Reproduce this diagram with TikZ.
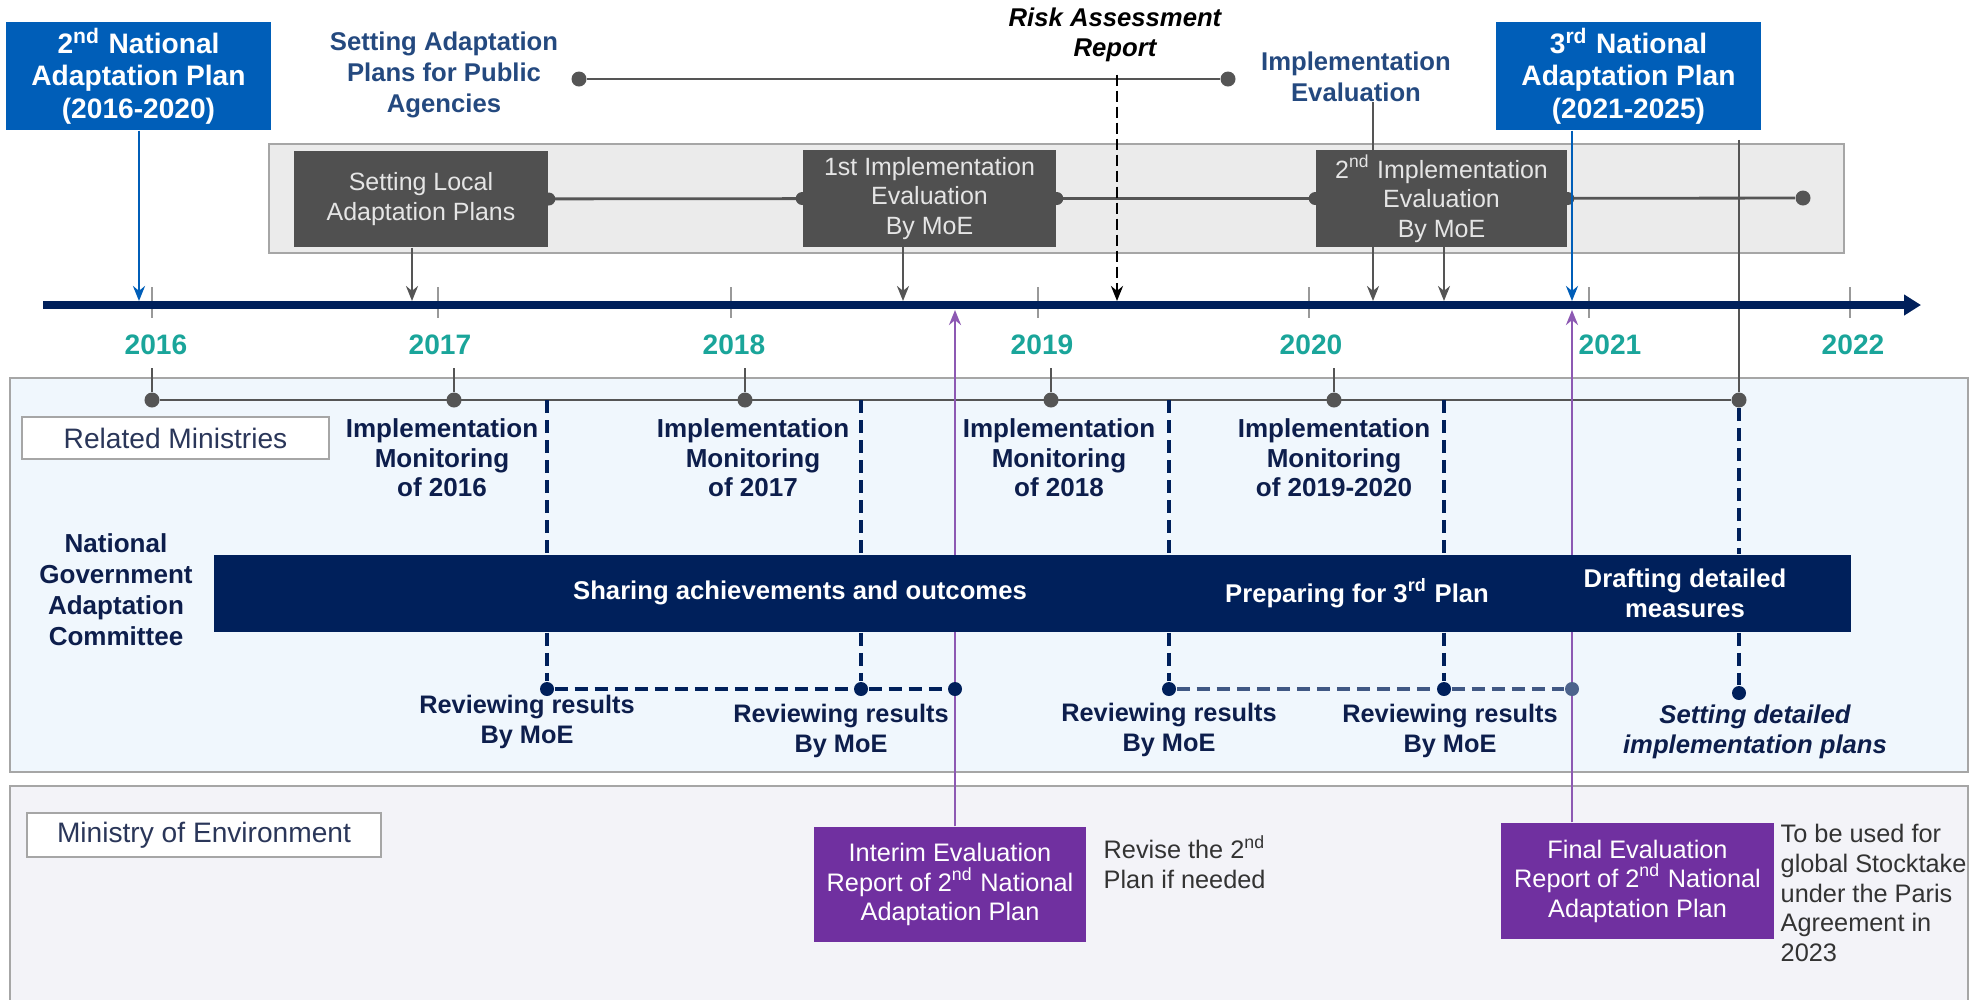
\documentclass[tikz,border=0pt]{standalone}
\usepackage{fontspec}
\setmainfont{Liberation Sans}
\usetikzlibrary{arrows.meta}

\definecolor{napblue}{HTML}{005EB8}
\definecolor{boxgray}{HTML}{505050}
\definecolor{bandgray}{HTML}{EBEBEB}
\definecolor{framegray}{HTML}{A6A6A6}
\definecolor{navy}{HTML}{00205B}
\definecolor{yearteal}{HTML}{1AA59A}
\definecolor{panelblue}{HTML}{F0F7FD}
\definecolor{panellilac}{HTML}{F3F3F8}
\definecolor{evalpurple}{HTML}{7030A0}
\definecolor{textblue}{HTML}{24497F}
\definecolor{textnavy}{HTML}{0D1E4C}
\definecolor{linegray}{HTML}{555555}

\begin{document}
\begin{tikzpicture}[x=0.01cm, y=-0.01cm,
    napbox/.style={fill=napblue, text=white, font=\bfseries\fontsize{8}{9.2}\selectfont, align=center,
        minimum width=2.65cm, minimum height=1.08cm, inner sep=0},
    mbox/.style={fill=boxgray, text=white!90!black, font=\fontsize{7.1}{8.4}\selectfont, align=center,
        minimum height=0.96cm, inner sep=0},
    toptext/.style={text=textblue, font=\bfseries\fontsize{7.3}{8.7}\selectfont, align=center, inner sep=0},
    yearlbl/.style={text=yearteal, font=\bfseries\fontsize{8}{9}\selectfont, inner sep=0},
    montext/.style={text=textnavy, font=\bfseries\fontsize{7.4}{8.4}\selectfont, align=center, inner sep=0},
    bartext/.style={text=white, font=\bfseries\fontsize{7.3}{8.6}\selectfont, align=center, inner sep=0},
    labelbox/.style={draw=framegray, fill=white, text=textnavy!75!gray, font=\fontsize{8}{9}\selectfont,
        inner sep=0, line width=0.6pt},
    evalbox/.style={fill=evalpurple, text=white, font=\fontsize{7.2}{8.4}\selectfont, align=center, inner sep=0},
    notetext/.style={text=black!80, font=\fontsize{7.2}{8.5}\selectfont, align=left, inner sep=0, anchor=west},
    gdot/.style={circle, fill=linegray, inner sep=0, minimum size=0.15cm},
    ndot/.style={circle, fill=navy, inner sep=0, minimum size=0.14cm},
    conn/.style={draw=linegray, line width=0.8pt},
    garrow/.style={conn, line width=0.7pt, -{Stealth[length=0.15cm, width=0.12cm]}},
    navydash/.style={draw=navy, line width=0.95pt, dash pattern=on 0.13cm off 0.07cm},
    purparrow/.style={draw=evalpurple!80, line width=0.75pt, -{Stealth[length=0.15cm, width=0.12cm]}},
    bluearrow/.style={draw=napblue, line width=0.75pt, -{Stealth[length=0.15cm, width=0.12cm]}}]

            \useasboundingbox (0, 0) rectangle (1981, 999);

            %%panels
            \draw[framegray, line width=0.7pt, fill=panelblue] (10, 378) rectangle (1968, 772);
            \draw[framegray, line width=0.7pt, fill=panellilac] (10, 786) rectangle (1968, 1010);

            %%points on the time axis
            \coordinate (axL) at(43, 305);
            \coordinate (axR) at(1921, 305);
            \coordinate (tNapA) at(139, 301);
            \coordinate (tLocal) at(412, 301);
            \coordinate (tEvalA) at(903, 301);
            \coordinate (tRisk) at(1117, 301);
            \coordinate (tImp) at(1373, 301);
            \coordinate (tEvalB) at(1444, 301);
            \coordinate (tNapB) at(1572, 301);
            \coordinate (pInt) at(955, 310);
            \coordinate (pFin) at(1572, 310);

            %%ticks and years
            \foreach \t/\l/\yr in {152/156/2016, 438/440/2017, 731/734/2018, 1038/1042/2019,
                                   1309/1311/2020, 1589/1610/2021, 1850/1853/2022}{
                \draw[black!40, line width=0.5pt] (\t, 287) to (\t, 318);
                \node[yearlbl] (y\yr) at(\l, 345){\yr};
            }

            %%band of evaluations
            \draw[framegray, fill=bandgray, line width=0.6pt] (269, 144) rectangle (1844, 253);
            \node[mbox, minimum width=2.54cm] (local) at(421, 199){Setting Local\\Adaptation Plans};
            \node[mbox, minimum width=2.53cm] (evalA) at(929.5, 198.5){1st Implementation\\Evaluation\\By MoE};
            \node[mbox, minimum width=2.51cm] (evalB) at(1441.5, 198.5){2\textsuperscript{nd} Implementation\\Evaluation\\By MoE};
            \node[gdot] (bandEnd) at(1803, 198){};
            \draw[conn] (local) to (evalA);
            \draw[conn] (evalA) to (evalB);
            \draw[conn] (evalB) to (bandEnd);
            \foreach \p in {local.east, evalA.west, evalA.east, evalB.west, evalB.east}
                \fill[boxgray] (\p) circle (0.065cm);

            %%top labels
            \node[napbox] (napA) at(138.5, 76){2\textsuperscript{nd} National\\Adaptation Plan\\(2016-2020)};
            \node[napbox] (napB) at(1628.5, 76){3\textsuperscript{rd} National\\Adaptation Plan\\(2021-2025)};
            \node[toptext] (pubtxt) at(444, 75){Setting Adaptation\\Plans for Public\\Agencies};
            \node[gdot] (pubA) at(579, 79){};
            \node[gdot] (pubB) at(1228, 79){};
            \draw[conn] (pubA) to (pubB);
            \node[font=\bfseries\itshape\fontsize{7.3}{8.5}\selectfont, align=center, inner sep=0] (risk) at(1115, 35){Risk Assessment\\Report};
            \node[toptext] (impev) at(1356, 77){Implementation\\Evaluation};

            %%arrows to the axis
            \draw[bluearrow] (napA.south -| tNapA) to (tNapA);
            \draw[bluearrow] (napB.south -| tNapB) to (tNapB);
            \draw[garrow] (local.south -| tLocal) to (tLocal);
            \draw[garrow] (evalA.south -| tEvalA) to (tEvalA);
            \draw[garrow] (evalB.south -| tEvalB) to (tEvalB);
            \draw[conn] (impev.south -| tImp) to (evalB.north -| tImp);
            \draw[garrow] (evalB.south -| tImp) to (tImp);
            \draw[black, line width=0.8pt, dash pattern=on 0.11cm off 0.05cm, shorten <=0.12cm,
                -{Stealth[length=0.15cm, width=0.12cm]}] (risk.south -| tRisk) to (tRisk);

            %%related ministries
            \node[labelbox, minimum width=3.07cm, minimum height=0.42cm] (relmin) at(175.5, 438){Related Ministries};
            \node[gdot] (rmEnd) at(1739, 400){};
            \draw[conn, shorten <=0.09cm] (napB.south -| rmEnd) to (rmEnd);
            \foreach \x in {152, 454, 745, 1051, 1334}{
                \node[gdot] (m\x) at(\x, 400){};
                \draw[conn] (m\x) to ++(0, -32);
            }
            \draw[conn] (m152) to (rmEnd);

            %%time axis
            \draw[navy, line width=2.3pt, -{Triangle[length=0.17cm, width=0.2cm]}] (axL) to (axR);

            \node[montext] (monA) at(442, 458){Implementation\\Monitoring\\of 2016};
            \node[montext] (monB) at(753, 458){Implementation\\Monitoring\\of 2017};
            \node[montext] (monC) at(1059, 458){Implementation\\Monitoring\\of 2018};
            \node[montext] (monD) at(1334, 458){Implementation\\Monitoring\\of 2019-2020};
            \node[montext, font=\bfseries\fontsize{7.4}{8.8}\selectfont] (ngac) at(116, 590){National\\Government\\Adaptation\\Committee};

            %%ministry of environment
            \node[labelbox, minimum width=3.54cm, minimum height=0.44cm] (moe) at(204, 835){Ministry of Environment};
            \node[evalbox, minimum width=2.72cm, minimum height=1.15cm] (interim) at(950, 884.5){Interim Evaluation\\Report of 2\textsuperscript{nd} National\\Adaptation Plan};
            \node[evalbox, minimum width=2.73cm, minimum height=1.16cm] (final) at(1637.5, 881){Final Evaluation\\Report of 2\textsuperscript{nd} National\\Adaptation Plan};
            \node[notetext] (revise) at(1103, 862){Revise the 2\textsuperscript{nd}\\Plan if needed};
            \node[notetext] (stock) at(1780, 893){To be used for\\global Stocktake\\under the Paris\\Agreement in\\2023};
            \draw[purparrow] (interim.north -| pInt) to (pInt);
            \draw[purparrow] (final.north -| pFin) to (pFin);

            %%committee bar
            \node[fill=navy, minimum width=16.37cm, minimum height=0.77cm, inner sep=0] (bar) at(1032.5, 593.5){};
            \node[bartext] (share) at(800, 593){Sharing achievements and outcomes};
            \node[bartext] (prep) at(1357, 593){Preparing for 3\textsuperscript{rd} Plan};
            \node[bartext] (draft) at(1685, 593){Drafting detailed\\measures};

            %%reviews
            \foreach \x in {547, 861, 955, 1169, 1444}
                \node[ndot] (r\x) at(\x, 689){};
            \node[ndot, fill=navy!70!white] (r1572) at(1572, 689){};
            \node[ndot] (rEnd) at(1739, 693){};
            \foreach \x in {547, 861, 1169, 1444}{
                \draw[navydash] (rmEnd -| r\x) to (bar.north -| r\x);
                \draw[navydash] (bar.south -| r\x) to (r\x);
            }
            \draw[navydash] (rmEnd) to (bar.north -| rmEnd);
            \draw[navydash] (bar.south -| rmEnd) to (rEnd);
            \draw[navydash] (r547) to (r861);
            \draw[navydash] (r861) to (r955);
            \draw[navydash, draw=navy!75!white] (r1169) to (r1444);
            \draw[navydash, draw=navy!75!white] (r1444) to (r1572);

            \node[montext, font=\bfseries\fontsize{7.2}{8.3}\selectfont] (revA) at(527, 722){Reviewing results\\By MoE};
            \node[montext, font=\bfseries\fontsize{7.2}{8.3}\selectfont] (revB) at(841, 731){Reviewing results\\By MoE};
            \node[montext, font=\bfseries\fontsize{7.2}{8.3}\selectfont] (revC) at(1169, 730){Reviewing results\\By MoE};
            \node[montext, font=\bfseries\fontsize{7.2}{8.3}\selectfont] (revD) at(1450, 731){Reviewing results\\By MoE};
            \node[montext, font=\bfseries\itshape\fontsize{7.3}{8.5}\selectfont] (setdet) at(1755, 732){Setting detailed\\implementation plans};
        \end{tikzpicture}
\end{document}
